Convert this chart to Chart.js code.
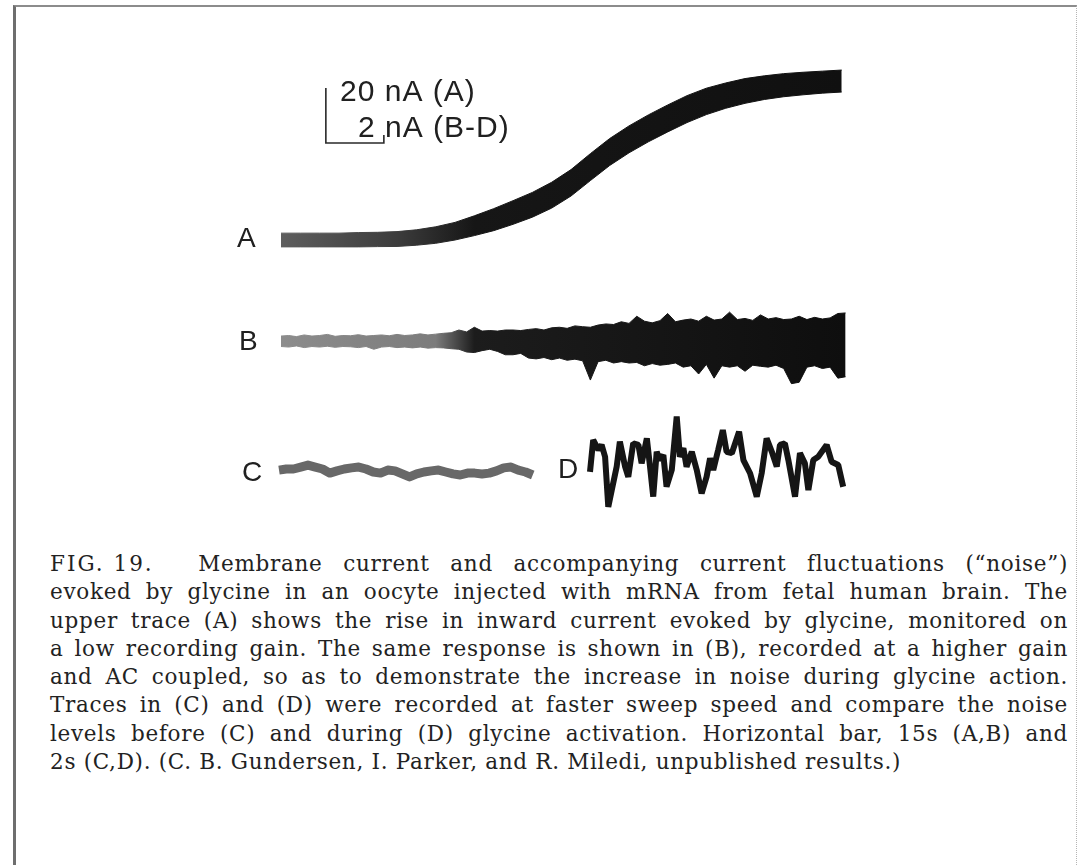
<!DOCTYPE html>
<html>
<head>
<meta charset="utf-8">
<script src="https://cdn.jsdelivr.net/npm/chart.js@4.4.1/dist/chart.umd.min.js"></script>
<style>
  html, body { margin: 0; background: #fff; }
  #page { position: relative; width: 1081px; height: 865px; overflow: hidden; }
  #frame {
    position: absolute; left: 13px; top: 5px; width: 1060px; height: 880px;
    border-left: 3px solid #6e6e6e; border-top: 2px solid #8c8c8c; border-right: 1px dotted #b5b5b5;
  }
  #traces { position: absolute; left: 0; top: 0; }
  #caption {
    position: absolute; left: 50px; top: 550px; width: 1018px;
    font-family: "DejaVu Serif", serif; font-size: 21.5px; letter-spacing: 0.7px; color: #222;
  }
  #caption div { height: 28.3px; line-height: 28.3px; text-align: justify; text-align-last: justify; }
  #caption div.last { text-align-last: left; }
  #caption .fig { display: inline-block; letter-spacing: 2px; margin-right: 24px; }
</style>
</head>
<body>
<div id="page">
  <div id="frame"></div>
  <canvas id="traces" width="1081" height="540"></canvas>
  <div id="caption">
    <div><span class="fig">FIG. 19.</span> Membrane current and accompanying current fluctuations (“noise”)</div>
    <div>evoked by glycine in an oocyte injected with mRNA from fetal human brain. The</div>
    <div>upper trace (A) shows the rise in inward current evoked by glycine, monitored on</div>
    <div>a low recording gain. The same response is shown in (B), recorded at a higher gain</div>
    <div>and AC coupled, so as to demonstrate the increase in noise during glycine action.</div>
    <div>Traces in (C) and (D) were recorded at faster sweep speed and compare the noise</div>
    <div>levels before (C) and during (D) glycine activation. Horizontal bar, 15s (A,B) and</div>
    <div class="last">2s (C,D). (C. B. Gundersen, I. Parker, and R. Miledi, unpublished results.)</div>
  </div>
</div>
<script>
// A: membrane current on low gain (time in s, current in nA), drawn as a band
const aTime = [0, 5, 10, 15, 20, 25, 30, 35, 40, 45, 50, 55, 60, 65, 70, 75, 80, 85, 90, 95, 100, 105, 110, 115, 120, 125, 130, 135, 140, 145];
const aCurrent = [0, 0, 0, 0, 0.1, 0.2, 0.35, 0.9, 1.8, 3.2, 5.2, 7.4, 10.0, 12.8, 16.3, 20.8, 26.5, 32.0, 36.6, 40.6, 44.2, 47.6, 50.4, 52.5, 54.2, 55.4, 56.3, 56.9, 57.4, 57.8];
const aSpread = [2.5, 2.5, 2.5, 2.5, 2.6, 2.6, 2.7, 2.8, 3.0, 3.2, 3.6, 4.0, 4.3, 4.5, 4.7, 4.8, 4.9, 4.9, 4.9, 4.9, 4.9, 4.9, 4.8, 4.6, 4.5, 4.3, 4.2, 4.1, 4.0, 4.0];

// B: same response, high gain AC coupled - noise envelope (nA)
const bTime = [0, 2, 4, 6, 8, 10, 12, 14, 16, 18, 20, 22, 24, 26, 28, 30, 32, 34, 36, 38, 40,
  42, 44, 46, 48, 50, 52, 54, 56, 58, 60, 62, 64, 66, 68, 70, 72, 74, 76, 78, 80, 82, 84, 86, 88, 90,
  92, 94, 96, 98, 100, 102, 104, 106, 108, 110, 112, 114, 116, 118, 120, 122, 124, 126, 128, 130,
  132, 134, 136, 138, 140, 142, 144, 146];
const bUpper = [0.18, 0.2, 0.16, 0.22, 0.18, 0.2, 0.24, 0.17, 0.2, 0.19, 0.23, 0.18, 0.2, 0.22, 0.19, 0.24, 0.2, 0.22, 0.26, 0.22, 0.25,
  0.28, 0.3, 0.4, 0.33, 0.5, 0.36, 0.38, 0.36, 0.4, 0.4, 0.38, 0.42, 0.45, 0.4, 0.48, 0.5, 0.46, 0.55, 0.52, 0.5, 0.58, 0.62, 0.6, 0.7, 0.64,
  0.9, 0.72, 0.66, 0.74, 1.0, 0.7, 0.76, 0.8, 0.72, 0.9, 0.76, 0.8, 1.05, 0.78, 0.82, 0.75, 0.95, 0.8, 0.85, 0.78,
  0.8, 0.9, 0.78, 0.86, 0.8, 0.84, 1.0, 1.02];
const bLower = [-0.2, -0.22, -0.18, -0.24, -0.2, -0.22, -0.19, -0.23, -0.2, -0.21, -0.24, -0.2, -0.3, -0.22, -0.2, -0.24, -0.22, -0.25, -0.22, -0.26, -0.24,
  -0.25, -0.28, -0.3, -0.4, -0.42, -0.35, -0.3, -0.38, -0.5, -0.5, -0.45, -0.62, -0.65, -0.6, -0.68, -0.62, -0.7, -0.66, -0.72, -1.42, -0.75, -0.7, -0.8, -0.75, -0.8,
  -0.78, -0.9, -0.82, -0.88, -0.85, -0.8, -0.95, -0.9, -1.2, -0.85, -1.35, -0.9, -0.95, -0.9, -1.1, -0.88, -0.92, -0.95, -0.88, -1.0,
  -1.55, -1.5, -0.95, -0.9, -1.0, -0.95, -1.35, -1.3];

// C: noise before glycine, fast sweep (s, nA)
const cTime = [0, 0.25, 0.5, 0.75, 1.0, 1.25, 1.5, 1.75, 2.0, 2.25, 2.5, 2.75, 3.0, 3.25, 3.5, 3.75, 4.0, 4.25,
  4.5, 4.75, 5.0, 5.25, 5.5, 5.75, 6.0, 6.25, 6.5, 6.75, 7.0, 7.25, 7.5, 7.75, 8.0, 8.25, 8.5, 8.75];
const cCurrent = [0.07, 0.11, 0.11, 0.18, 0.25, 0.18, 0.11, -0.04, 0.04, 0.11, 0.15, 0.18, 0.11, 0, -0.04, 0.07, 0.04, -0.07,
  -0.18, -0.07, 0, 0.04, 0.07, 0, -0.07, -0.11, -0.04, -0.04, -0.07, -0.04, 0.04, 0.15, 0.18, 0.07, 0, -0.11];

// D: noise during glycine, fast sweep (s, nA)
const dTime = [0, 0.11, 0.29, 0.4, 0.52, 0.63, 0.75, 0.92, 1.03, 1.21, 1.32, 1.49, 1.67, 1.78, 1.96, 2.07, 2.18, 2.3, 2.41, 2.53,
  2.64, 2.82, 2.99, 3.1, 3.22, 3.33, 3.51, 3.68, 3.85, 4.02, 4.14, 4.25, 4.42, 4.58, 4.71, 4.89, 5.14, 5.29, 5.52, 5.75,
  5.92, 6.09, 6.27, 6.44, 6.55, 6.72, 6.84, 7.07, 7.24, 7.41, 7.53, 7.7, 7.87, 8.16, 8.33, 8.56, 8.73];
const dCurrent = [-0.25, 0.91, 0.55, 0.73, 0.3, -1.52, -0.91, -0.06, 0.85, -0.06, -0.43, 0.79, 0.73, 0.06, 0.97, -0.06, -1.15, 0.48, 0.18, 0.36,
  -0.79, -0.18, 1.76, 0.3, 0.61, -0.06, 0.48, -0.18, -1.03, -0.43, 0.24, -0.18, 0.55, 1.27, 0.48, 0.43, 1.21, 0.18, -0.3, -1.15,
  -0.3, 0.97, 0.48, -0.06, 0.73, 0.79, 0.18, -1.15, 0.43, 0.06, -0.91, 0.18, 0.3, 0.73, 0.12, 0, -0.79];

// calibration bar on the A scale: 15 s by 20 nA (2 nA for B-D)
const barTime = [11.6, 11.6, 26.6, 26.6];
const barCurrent = [55.3, 35.3, 35.3, 38.2];

// ---- layout: where each trace sits on the canvas ----
const W = 1081, H = 540;
function xRange(zeroPx, pxPerUnit) {
  return { min: -zeroPx / pxPerUnit, max: (W - zeroPx) / pxPerUnit };
}
function yRange(zeroPx, pxPerUnit) {
  return { min: -(H - zeroPx) / pxPerUnit, max: zeroPx / pxPerUnit };
}
const hidden = (r) => ({ type: 'linear', display: false, min: r.min, max: r.max });

const pts = (xs, ys) => xs.map((x, i) => ({ x, y: ys[i] }));

function fade(scaleId, stops) {
  return (ctx) => {
    const chart = ctx.chart;
    if (!chart.chartArea) return stops[0][1];
    const sc = chart.scales[scaleId];
    const x0 = sc.getPixelForValue(stops[0][0]);
    const x1 = sc.getPixelForValue(stops[stops.length - 1][0]);
    const g = chart.ctx.createLinearGradient(x0, 0, x1, 0);
    stops.forEach(([t, c]) => g.addColorStop((sc.getPixelForValue(t) - x0) / (x1 - x0), c));
    return g;
  };
}
const aShade = fade('xAB', [[0, '#5e5e5e'], [30, '#3c3c3c'], [50, '#161616'], [145, '#101010']]);
const bShade = fade('xAB', [[0, '#8c8c8c'], [40, '#7c7c7c'], [50, '#1c1c1c'], [146, '#0e0e0e']]);

const labels = [
  { text: 'A', x: 237, y: 247, size: 28 },
  { text: 'B', x: 239, y: 350, size: 28 },
  { text: 'C', x: 242, y: 481, size: 28 },
  { text: 'D', x: 558, y: 478, size: 28 },
  { text: '20 nA (A)', x: 340, y: 101, size: 30 },
  { text: '2 nA (B-D)', x: 358, y: 137, size: 30 }
];

const textPlugin = {
  id: 'traceLabels',
  afterDraw(chart) {
    const ctx = chart.ctx;
    ctx.save();
    ctx.fillStyle = '#202020';
    ctx.textBaseline = 'alphabetic';
    labels.forEach(l => {
      ctx.font = l.size + 'px "Liberation Sans", Arial, sans-serif';
      ctx.letterSpacing = l.size === 30 ? '1px' : '0px';
      ctx.fillText(l.text, l.x, l.y);
    });
    ctx.restore();
  }
};

new Chart(document.getElementById('traces'), {
  type: 'line',
  data: {
    datasets: [
      {
        data: pts(aTime, aCurrent.map((v, i) => v + aSpread[i])),
        xAxisID: 'xAB', yAxisID: 'yA', borderColor: aShade, borderWidth: 1, fill: false
      },
      {
        data: pts(aTime, aCurrent.map((v, i) => v - aSpread[i])),
        xAxisID: 'xAB', yAxisID: 'yA', borderColor: aShade, borderWidth: 1,
        fill: '-1', backgroundColor: aShade
      },
      {
        data: pts(bTime, bUpper),
        xAxisID: 'xAB', yAxisID: 'yB', borderColor: bShade, borderWidth: 1, fill: false
      },
      {
        data: pts(bTime, bLower),
        xAxisID: 'xAB', yAxisID: 'yB', borderColor: bShade, borderWidth: 1,
        fill: '-1', backgroundColor: bShade
      },
      {
        data: pts(cTime, cCurrent),
        xAxisID: 'xC', yAxisID: 'yC', borderColor: '#686868', borderWidth: 9,
        borderJoinStyle: 'round', fill: false
      },
      {
        data: pts(dTime, dCurrent),
        xAxisID: 'xD', yAxisID: 'yD', borderColor: '#151515', borderWidth: 6,
        borderJoinStyle: 'bevel', fill: false
      },
      {
        data: pts(barTime, barCurrent),
        xAxisID: 'xAB', yAxisID: 'yA', borderColor: '#2a2a2a', borderWidth: 1.6, fill: false
      }
    ]
  },
  options: {
    responsive: false,
    animation: false,
    devicePixelRatio: 1,
    events: [],
    layout: { padding: 0 },
    elements: { point: { radius: 0 }, line: { tension: 0 } },
    plugins: { legend: { display: false }, tooltip: { enabled: false } },
    scales: {
      xAB: hidden(xRange(281, 3.867)),
      xC: hidden(xRange(279, 29)),
      xD: hidden(xRange(590, 29)),
      yA: hidden(yRange(240, 2.75)),
      yB: hidden(yRange(341, 27.5)),
      yC: hidden(yRange(472, 27.5)),
      yD: hidden(yRange(465, 27.5))
    }
  },
  plugins: [textPlugin]
});
</script>
</body>
</html>
